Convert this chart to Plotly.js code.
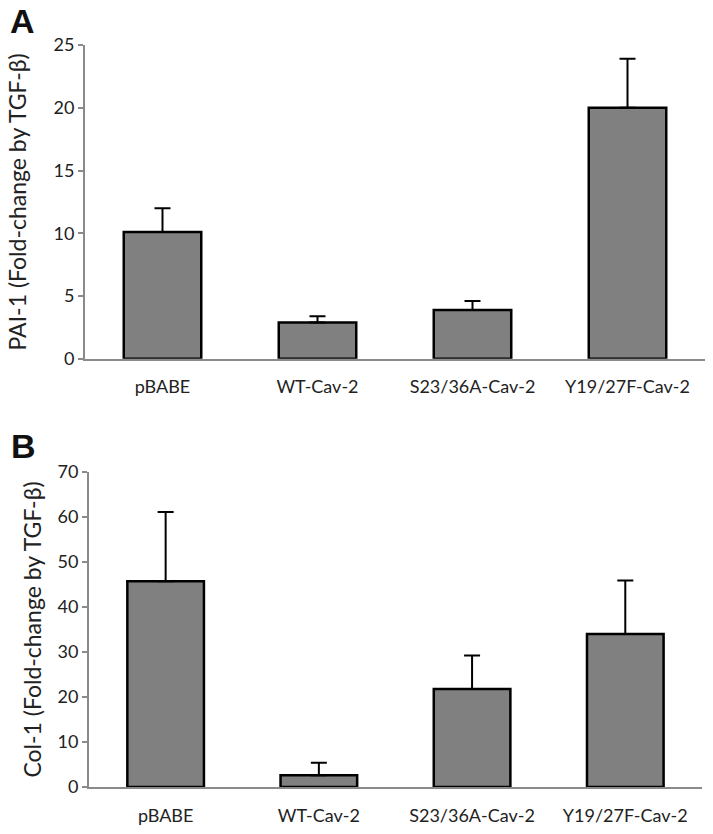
<!DOCTYPE html>
<html lang="en">
<head>
    <meta charset="UTF-8">
    <title>PAI-1 and Col-1 fold-change</title>
    <script src="https://cdn.plot.ly/plotly-3.0.1.min.js"></script>
    <style>
        body { margin: 0; padding: 0; background: white; }
        #plot { width: 713px; height: 834px; }
    </style>
</head>
<body>
<div id="plot"></div>
<script>
    const groups = ['pBABE', 'WT-Cav-2', 'S23/36A-Cav-2', 'Y19/27F-Cav-2'];

    // Panel A: PAI-1
    const paiMean = [10.1, 2.9, 3.9, 20.0];
    const paiErr = [1.9, 0.5, 0.7, 3.9];

    // Panel B: Col-1
    const colMean = [45.7, 2.6, 21.8, 34.0];
    const colErr = [15.4, 2.8, 7.4, 11.9];

    const barStyle = {color: '#808080', line: {color: '#000', width: 2.5}};
    const zeros = groups.map(() => 0);

    function barTrace(means, errs, xa, ya) {
        return {
            type: 'bar',
            x: groups,
            y: means,
            xaxis: xa,
            yaxis: ya,
            width: 0.5,
            marker: barStyle,
            error_y: {
                type: 'data',
                symmetric: false,
                array: errs,
                arrayminus: zeros,
                color: '#000',
                thickness: 2,
                width: 8
            },
            showlegend: false,
            hoverinfo: 'skip'
        };
    }

    const traces = [
        barTrace(paiMean, paiErr, 'x', 'y'),
        barTrace(colMean, colErr, 'x2', 'y2')
    ];

    const tickFont = {family: 'Lato, sans-serif', size: 18, color: '#222'};
    const titleFont = {family: 'Lato, sans-serif', size: 23, color: '#222'};

    const xBase = {
        type: 'category',
        showline: true,
        linecolor: '#8a8a8a',
        linewidth: 2,
        ticks: '',
        tickfont: tickFont,
        ticklabelstandoff: 11,
        showgrid: false,
        zeroline: false,
        fixedrange: true
    };
    const yBase = {
        showline: true,
        linecolor: '#8a8a8a',
        linewidth: 2,
        ticks: 'outside',
        ticklen: 5,
        tickcolor: '#8a8a8a',
        tickwidth: 2,
        tickfont: tickFont,
        showgrid: false,
        zeroline: false,
        fixedrange: true
    };

    const layout = {
        width: 713,
        height: 834,
        margin: {l: 85, r: 8, t: 45, b: 47},
        paper_bgcolor: 'white',
        plot_bgcolor: 'white',
        xaxis: Object.assign({}, xBase, {domain: [0, 1], anchor: 'y'}),
        yaxis: Object.assign({}, yBase, {
            domain: [0.577, 1],
            range: [0, 25],
            dtick: 5,
            anchor: 'x',
            title: {text: 'PAI-1 (Fold-change by TGF-β)', font: titleFont, standoff: 20}
        }),
        xaxis2: Object.assign({}, xBase, {domain: [0.0065, 0.995], anchor: 'y2'}),
        yaxis2: Object.assign({}, yBase, {
            domain: [0, 0.4245],
            range: [0, 70],
            dtick: 10,
            anchor: 'x2',
            title: {text: 'Col-1 (Fold-change by TGF-β)', font: titleFont, standoff: 9}
        }),
        annotations: [
            {text: '<b>A</b>', xref: 'paper', yref: 'paper', x: -0.125, y: 1.06,
             xanchor: 'left', yanchor: 'top', showarrow: false,
             font: {family: 'Liberation Sans, Arial, sans-serif', size: 34, color: '#111'}},
            {text: '<b>B</b>', xref: 'paper', yref: 'paper', x: -0.122, y: 0.488,
             xanchor: 'left', yanchor: 'top', showarrow: false,
             font: {family: 'Liberation Sans, Arial, sans-serif', size: 34, color: '#111'}}
        ]
    };

    Plotly.newPlot('plot', traces, layout, {displayModeBar: false, staticPlot: true});
</script>
</body>
</html>
